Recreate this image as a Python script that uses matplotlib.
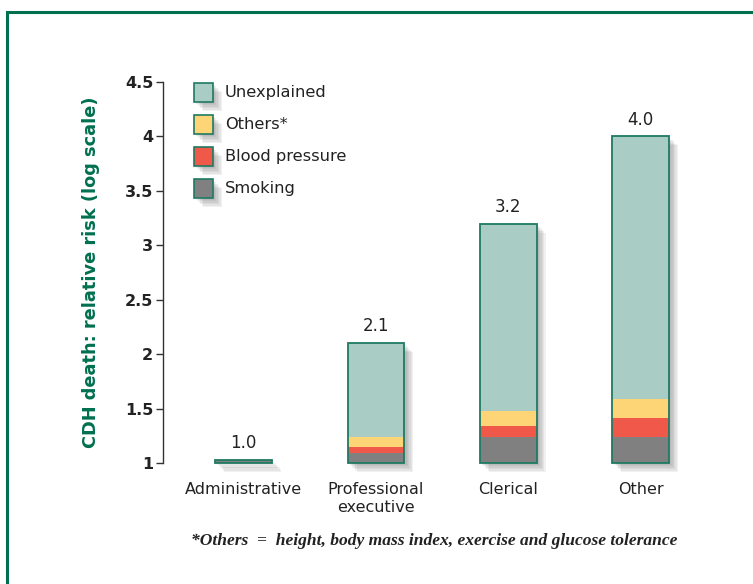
import matplotlib
matplotlib.use("Agg")
import matplotlib.pyplot as plt
import matplotlib.patheffects as pe
from matplotlib.patches import Rectangle
import numpy as np

categories = ["Administrative", "Professional\nexecutive", "Clerical", "Other"]
smoking = [0.03, 0.09, 0.24, 0.24]
blood_pressure = [0.00, 0.06, 0.10, 0.17]
others = [0.00, 0.09, 0.14, 0.18]
totals = [1.03, 2.1, 3.2, 4.0]
total_labels = ["1.0", "2.1", "3.2", "4.0"]
series_names = ["Unexplained", "Others*", "Blood pressure", "Smoking"]
yticks = [1, 1.5, 2, 2.5, 3, 3.5, 4, 4.5]
ytick_labels = ["1", "1.5", "2", "2.5", "3", "3.5", "4", "4.5"]

col_unexp = "#A9CCC4"
col_others = "#FED576"
col_bp = "#F0594A"
col_smoke = "#808080"
col_edge = "#1E7A62"
col_green = "#00704F"

fig = plt.figure(figsize=(7.53, 5.84), dpi=100)
W, H = 753, 584
ax = fig.add_axes([163 / W, (584 - 463) / H, (720 - 163) / W, (463 - 82) / H])

x = np.arange(len(categories))
width = 0.43
base = 1.0

shadow = [pe.SimplePatchShadow(offset=(d, -d), shadow_rgbFace="#555555", alpha=0.08)
          for d in (1.5, 2.5, 3.5, 4.5, 5.5, 6.5)] + [pe.Normal()]

s = np.array(smoking)
b = np.array(blood_pressure)
o = np.array(others)
t = np.array(totals)
u = t - base - s - b - o

# shadow base
ax.bar(x, t - base, width, bottom=base, color="white", edgecolor="none",
       path_effects=shadow, zorder=1, clip_on=False)
bot = np.full(len(x), base)
for vals, col in [(s, col_smoke), (b, col_bp), (o, col_others), (u, col_unexp)]:
    ax.bar(x, vals, width, bottom=bot, color=col, edgecolor="none", zorder=2, clip_on=False)
    bot = bot + vals
ax.bar(x, t - base, width, bottom=base, facecolor="none", edgecolor=col_edge,
       linewidth=1.3, zorder=3, clip_on=False)

for xi, ti, lab in zip(x, t, total_labels):
    ax.annotate(lab, (xi, ti), xytext=(0, 8.5), textcoords="offset points",
                ha="center", va="baseline", fontsize=12, color="#222222")

ax.set_xlim(-0.61, 3.6)
ax.set_ylim(1, 4.5)
ax.set_yticks(yticks)
ax.set_yticklabels(ytick_labels, fontsize=11.5, fontweight="bold", color="#222222")
ax.set_xticks(x)
ax.set_xticklabels(categories, fontsize=11.5, color="#222222", linespacing=1.2)
ax.tick_params(axis="x", length=0, pad=14)
ax.tick_params(axis="y", length=5, width=1, pad=2, color="#333333")
for sp in ["top", "right", "bottom"]:
    ax.spines[sp].set_visible(False)
ax.spines["left"].set_color("#333333")
ax.spines["left"].set_linewidth(1)

ax.set_ylabel("CDH death: relative risk (log scale)", fontsize=12.8, fontweight="bold",
              color=col_green, labelpad=18)

# legend
leg_cols = [col_unexp, col_others, col_bp, col_smoke]
axw, axh = 720 - 163, 463 - 82
for i, (name, col) in enumerate(zip(series_names, leg_cols)):
    top_px = 83 + i * 32
    y0 = (463 - (top_px + 19)) / axh
    x0 = (194 - 163) / axw
    r = Rectangle((x0, y0), 19 / axw, 19 / axh, transform=ax.transAxes,
                  facecolor=col, edgecolor=col_edge, linewidth=1.2, zorder=4,
                  path_effects=shadow, clip_on=False)
    ax.add_patch(r)
    ax.text((225 - 163) / axw, y0 + 9.5 / axh, name, transform=ax.transAxes,
            ha="left", va="center", fontsize=11.7, color="#222222")

fig.text(434 / W, 1 - 541 / H, "*Others  =  height, body mass index, exercise and glucose tolerance",
         ha="center", va="center", fontsize=12.6, family="Liberation Serif",
         style="italic", fontweight="bold", color="#222222")

frame = Rectangle((7 / W, -0.05), 1.1, 1 - 12 / H + 0.05, transform=fig.transFigure,
                  facecolor="none", edgecolor=col_green, linewidth=2.2)
fig.patches.append(frame)

fig.savefig("out.png", dpi=100)
